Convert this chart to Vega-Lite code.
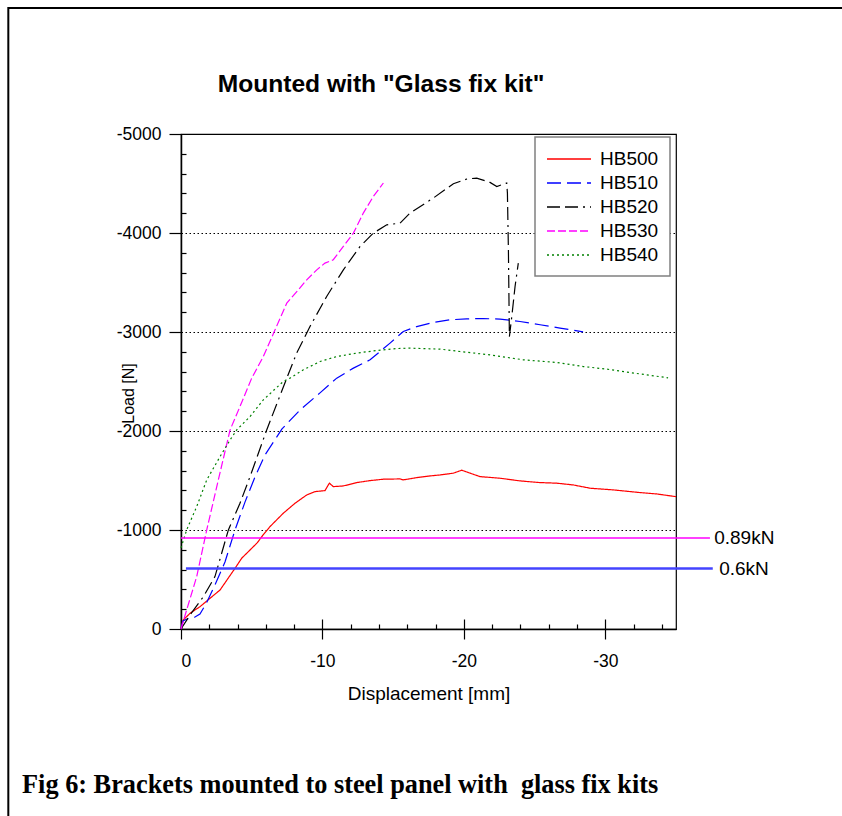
{
  "$schema": "https://vega.github.io/schema/vega-lite/v6.json",
  "autosize": "none",
  "width": 495,
  "height": 495,
  "padding": {"left": 181, "top": 134, "right": 166, "bottom": 187},
  "background": "white",
  "config": {
    "view": {"stroke": "black", "strokeWidth": 1.2},
    "axis": {
      "labelFont": "Liberation Sans",
      "labelFontSize": 17.5,
      "labelColor": "black",
      "titleFont": "Liberation Sans",
      "titleFontSize": 19,
      "titleFontWeight": "normal",
      "titleColor": "black",
      "domainColor": "black",
      "domainWidth": 1.5,
      "tickColor": "black",
      "tickWidth": 1.2
    },
    "legend": {
      "labelFont": "Liberation Sans",
      "labelFontSize": 19,
      "labelColor": "black"
    }
  },
  "datasets": {
    "series": [
      {"s": "HB500", "x": 0, "y": 0},
      {"s": "HB500", "x": -0.16, "y": -91},
      {"s": "HB500", "x": -0.64, "y": -159},
      {"s": "HB500", "x": -1.34, "y": -225},
      {"s": "HB500", "x": -2.05, "y": -310},
      {"s": "HB500", "x": -2.76, "y": -394},
      {"s": "HB500", "x": -3.82, "y": -613},
      {"s": "HB500", "x": -4.29, "y": -715},
      {"s": "HB500", "x": -4.88, "y": -798},
      {"s": "HB500", "x": -5.4, "y": -872},
      {"s": "HB500", "x": -5.71, "y": -933},
      {"s": "HB500", "x": -6.29, "y": -1034},
      {"s": "HB500", "x": -7.23, "y": -1169},
      {"s": "HB500", "x": -8.06, "y": -1270},
      {"s": "HB500", "x": -8.89, "y": -1354},
      {"s": "HB500", "x": -9.48, "y": -1388},
      {"s": "HB500", "x": -10.18, "y": -1398},
      {"s": "HB500", "x": -10.49, "y": -1473},
      {"s": "HB500", "x": -10.77, "y": -1438},
      {"s": "HB500", "x": -11.48, "y": -1445},
      {"s": "HB500", "x": -12.43, "y": -1479},
      {"s": "HB500", "x": -13.37, "y": -1499},
      {"s": "HB500", "x": -14.31, "y": -1513},
      {"s": "HB500", "x": -15.49, "y": -1516},
      {"s": "HB500", "x": -15.7, "y": -1506},
      {"s": "HB500", "x": -16.67, "y": -1529},
      {"s": "HB500", "x": -17.61, "y": -1546},
      {"s": "HB500", "x": -18.32, "y": -1556},
      {"s": "HB500", "x": -19.26, "y": -1574},
      {"s": "HB500", "x": -19.85, "y": -1604},
      {"s": "HB500", "x": -20.44, "y": -1574},
      {"s": "HB500", "x": -21.15, "y": -1539},
      {"s": "HB500", "x": -22.56, "y": -1523},
      {"s": "HB500", "x": -23.97, "y": -1496},
      {"s": "HB500", "x": -25.39, "y": -1479},
      {"s": "HB500", "x": -26.57, "y": -1473},
      {"s": "HB500", "x": -27.74, "y": -1455},
      {"s": "HB500", "x": -28.93, "y": -1422},
      {"s": "HB500", "x": -30.57, "y": -1405},
      {"s": "HB500", "x": -32.46, "y": -1378},
      {"s": "HB500", "x": -33.64, "y": -1364},
      {"s": "HB500", "x": -35.0, "y": -1337},
      {"s": "HB510", "x": 0, "y": 0},
      {"s": "HB510", "x": -0.14, "y": -81},
      {"s": "HB510", "x": -0.42, "y": -101},
      {"s": "HB510", "x": -0.99, "y": -121},
      {"s": "HB510", "x": -1.34, "y": -152},
      {"s": "HB510", "x": -1.77, "y": -253},
      {"s": "HB510", "x": -2.4, "y": -445},
      {"s": "HB510", "x": -3.11, "y": -677},
      {"s": "HB510", "x": -3.82, "y": -1001},
      {"s": "HB510", "x": -4.53, "y": -1284},
      {"s": "HB510", "x": -5.23, "y": -1536},
      {"s": "HB510", "x": -5.94, "y": -1759},
      {"s": "HB510", "x": -7.14, "y": -2021},
      {"s": "HB510", "x": -8.42, "y": -2213},
      {"s": "HB510", "x": -9.83, "y": -2385},
      {"s": "HB510", "x": -11.01, "y": -2534},
      {"s": "HB510", "x": -12.19, "y": -2635},
      {"s": "HB510", "x": -13.37, "y": -2719},
      {"s": "HB510", "x": -14.78, "y": -2888},
      {"s": "HB510", "x": -15.72, "y": -3005},
      {"s": "HB510", "x": -16.67, "y": -3055},
      {"s": "HB510", "x": -17.84, "y": -3096},
      {"s": "HB510", "x": -19.02, "y": -3123},
      {"s": "HB510", "x": -20.2, "y": -3133},
      {"s": "HB510", "x": -21.38, "y": -3136},
      {"s": "HB510", "x": -22.56, "y": -3130},
      {"s": "HB510", "x": -23.97, "y": -3106},
      {"s": "HB510", "x": -25.39, "y": -3073},
      {"s": "HB510", "x": -26.8, "y": -3039},
      {"s": "HB510", "x": -28.43, "y": -3002},
      {"s": "HB520", "x": 0, "y": 0},
      {"s": "HB520", "x": -0.64, "y": -142},
      {"s": "HB520", "x": -1.58, "y": -326},
      {"s": "HB520", "x": -2.4, "y": -529},
      {"s": "HB520", "x": -3.35, "y": -1001},
      {"s": "HB520", "x": -4.17, "y": -1270},
      {"s": "HB520", "x": -4.88, "y": -1539},
      {"s": "HB520", "x": -6.06, "y": -2011},
      {"s": "HB520", "x": -7.48, "y": -2534},
      {"s": "HB520", "x": -8.18, "y": -2787},
      {"s": "HB520", "x": -9.12, "y": -3055},
      {"s": "HB520", "x": -10.3, "y": -3359},
      {"s": "HB520", "x": -11.48, "y": -3628},
      {"s": "HB520", "x": -12.66, "y": -3864},
      {"s": "HB520", "x": -13.6, "y": -3999},
      {"s": "HB520", "x": -14.55, "y": -4083},
      {"s": "HB520", "x": -15.49, "y": -4100},
      {"s": "HB520", "x": -16.19, "y": -4202},
      {"s": "HB520", "x": -17.84, "y": -4353},
      {"s": "HB520", "x": -19.26, "y": -4498},
      {"s": "HB520", "x": -20.2, "y": -4545},
      {"s": "HB520", "x": -20.91, "y": -4555},
      {"s": "HB520", "x": -21.85, "y": -4511},
      {"s": "HB520", "x": -22.33, "y": -4470},
      {"s": "HB520", "x": -23.03, "y": -4505},
      {"s": "HB520", "x": -23.08, "y": -4404},
      {"s": "HB520", "x": -23.15, "y": -3831},
      {"s": "HB520", "x": -23.22, "y": -2954},
      {"s": "HB520", "x": -23.39, "y": -3157},
      {"s": "HB520", "x": -23.62, "y": -3460},
      {"s": "HB520", "x": -23.85, "y": -3696},
      {"s": "HB530", "x": 0, "y": 0},
      {"s": "HB530", "x": -0.4, "y": -192},
      {"s": "HB530", "x": -1.11, "y": -529},
      {"s": "HB530", "x": -1.82, "y": -1001},
      {"s": "HB530", "x": -2.64, "y": -1506},
      {"s": "HB530", "x": -3.47, "y": -2011},
      {"s": "HB530", "x": -4.17, "y": -2247},
      {"s": "HB530", "x": -5.0, "y": -2534},
      {"s": "HB530", "x": -5.82, "y": -2752},
      {"s": "HB530", "x": -6.65, "y": -3022},
      {"s": "HB530", "x": -7.48, "y": -3292},
      {"s": "HB530", "x": -8.3, "y": -3426},
      {"s": "HB530", "x": -8.89, "y": -3527},
      {"s": "HB530", "x": -9.6, "y": -3628},
      {"s": "HB530", "x": -10.18, "y": -3696},
      {"s": "HB530", "x": -10.77, "y": -3730},
      {"s": "HB530", "x": -11.48, "y": -3864},
      {"s": "HB530", "x": -12.19, "y": -3999},
      {"s": "HB530", "x": -12.89, "y": -4201},
      {"s": "HB530", "x": -13.6, "y": -4369},
      {"s": "HB530", "x": -14.31, "y": -4505},
      {"s": "HB540", "x": 0, "y": -819},
      {"s": "HB540", "x": -0.4, "y": -1001},
      {"s": "HB540", "x": -1.11, "y": -1236},
      {"s": "HB540", "x": -1.82, "y": -1506},
      {"s": "HB540", "x": -2.76, "y": -1741},
      {"s": "HB540", "x": -3.47, "y": -1910},
      {"s": "HB540", "x": -3.94, "y": -2011},
      {"s": "HB540", "x": -4.88, "y": -2146},
      {"s": "HB540", "x": -5.82, "y": -2315},
      {"s": "HB540", "x": -7.23, "y": -2500},
      {"s": "HB540", "x": -7.71, "y": -2534},
      {"s": "HB540", "x": -8.65, "y": -2618},
      {"s": "HB540", "x": -9.83, "y": -2702},
      {"s": "HB540", "x": -11.01, "y": -2752},
      {"s": "HB540", "x": -12.43, "y": -2787},
      {"s": "HB540", "x": -13.84, "y": -2813},
      {"s": "HB540", "x": -15.25, "y": -2833},
      {"s": "HB540", "x": -16.19, "y": -2837},
      {"s": "HB540", "x": -17.61, "y": -2830},
      {"s": "HB540", "x": -18.32, "y": -2827},
      {"s": "HB540", "x": -19.73, "y": -2803},
      {"s": "HB540", "x": -21.85, "y": -2769},
      {"s": "HB540", "x": -24.21, "y": -2719},
      {"s": "HB540", "x": -26.57, "y": -2692},
      {"s": "HB540", "x": -28.45, "y": -2651},
      {"s": "HB540", "x": -30.11, "y": -2625},
      {"s": "HB540", "x": -31.52, "y": -2595},
      {"s": "HB540", "x": -32.93, "y": -2567},
      {"s": "HB540", "x": -34.44, "y": -2537}
    ]
  },
  "resolve": {"axis": {"x": "independent", "y": "independent"}},
  "layer": [
    {
      "data": {"values": [{"x": 12.21, "x2": -70, "y": -6273, "y2": 4000}]},
      "mark": {"type": "rect", "fill": null, "stroke": "black", "strokeWidth": 2, "clip": false},
      "encoding": {
        "x": {"field": "x", "type": "quantitative", "scale": {"domain": [0, -35], "nice": false, "zero": false},
          "axis": {"values": [0, -10, -20, -30], "tickSize": 10, "labelPadding": 13, "title": "Displacement [mm]", "titlePadding": 15, "grid": false,
            "labelExpr": "datum.value == 0 ? '0' : '-' + abs(datum.value)"}},
        "x2": {"field": "x2"},
        "y": {"field": "y", "type": "quantitative", "scale": {"domain": [0, -5000], "nice": false, "zero": false},
          "axis": {"values": [0, -1000, -2000, -3000, -4000, -5000], "tickSize": 12, "labelPadding": 8, "title": "Load [N]",
            "labelExpr": "datum.value == 0 ? '0' : '-' + abs(datum.value)",
            "titleFontSize": 16,
            "titleX": -53, "titleY": 259, "titleAngle": -90, "titleBaseline": "middle",
            "grid": true, "gridColor": "black", "gridDash": [1.5, 2.5], "gridWidth": 1, "gridOpacity": 1}},
        "y2": {"field": "y2"}
      }
    },
    {
      "data": {"values": []},
      "mark": {"type": "point", "opacity": 0},
      "encoding": {
        "x": {"field": "x", "type": "quantitative",
          "axis": {"orient": "bottom", "values": [-2, -4, -6, -8, -12, -14, -16, -18, -22, -24, -26, -28, -32, -34], "tickSize": -5, "labels": false, "domain": false, "title": null, "grid": false}},
        "y": {"field": "y", "type": "quantitative",
          "axis": {"orient": "left", "values": [-200, -400, -600, -800, -1200, -1400, -1600, -1800, -2200, -2400, -2600, -2800, -3200, -3400, -3600, -3800, -4200, -4400, -4600, -4800], "tickSize": -5, "labels": false, "domain": false, "title": null, "grid": false}}
      }
    },
    {
      "data": {"values": []},
      "mark": {"type": "point", "opacity": 0},
      "encoding": {
        "x": {"field": "x", "type": "quantitative",
          "axis": {"orient": "bottom", "values": [0, -10, -20, -30], "tickSize": -10, "labels": false, "domain": false, "title": null, "grid": false}},
        "y": {"field": "y", "type": "quantitative", "axis": null}
      }
    },
    {
      "data": {"name": "series"},
      "mark": {"type": "line", "strokeWidth": 1.2, "clip": false},
      "encoding": {
        "x": {"field": "x", "type": "quantitative", "axis": null},
        "y": {"field": "y", "type": "quantitative", "axis": null},
        "color": {"field": "s", "type": "nominal",
          "scale": {"domain": ["HB500", "HB510", "HB520", "HB530", "HB540"], "range": ["#ff0000", "#0000ff", "#000000", "#ff00ff", "#008000"]},
          "legend": {
            "title": null, "orient": "none", "legendX": 354, "legendY": 3,
            "strokeColor": "#808080", "fillColor": "white", "padding": 11,
            "symbolType": "M-2.2,0H2.2", "symbolSize": 400, "symbolStrokeWidth": 1.5, "symbolOffset": 12,
            "labelOffset": 20, "rowPadding": 3,
            "encode": {"legend": {"update": {"strokeWidth": {"value": 1.5}}}}
          }},
        "strokeDash": {"field": "s", "type": "nominal",
          "scale": {"domain": ["HB500", "HB510", "HB520", "HB530", "HB540"], "range": [[1, 0], [14, 6], [13, 5, 13, 5, 2, 5], [8, 3], [2, 3]]}}
      }
    },
    {
      "data": {"values": [{"x": 0, "x2": -37.4, "y": -920}]},
      "mark": {"type": "rule", "color": "#ff00ff", "strokeWidth": 1.5, "clip": false},
      "encoding": {
        "x": {"field": "x", "type": "quantitative", "axis": null},
        "x2": {"field": "x2"},
        "y": {"field": "y", "type": "quantitative", "axis": null}
      }
    },
    {
      "data": {"values": [{"x": -0.35, "x2": -37.6, "y": -610}]},
      "mark": {"type": "rule", "color": "#4444ff", "strokeWidth": 2.5, "clip": false},
      "encoding": {
        "x": {"field": "x", "type": "quantitative", "axis": null},
        "x2": {"field": "x2"},
        "y": {"field": "y", "type": "quantitative", "axis": null}
      }
    },
    {
      "data": {"values": [{"t": "0.89kN", "x": -37.7, "y": -920}, {"t": "0.6kN", "x": -38.05, "y": -610}]},
      "mark": {"type": "text", "align": "left", "baseline": "middle", "font": "Liberation Sans", "fontSize": 19, "color": "black", "clip": false},
      "encoding": {
        "x": {"field": "x", "type": "quantitative", "axis": null},
        "y": {"field": "y", "type": "quantitative", "axis": null},
        "text": {"field": "t"}
      }
    },
    {
      "data": {"values": [{"t": "Mounted with \"Glass fix kit\"", "x": -14.14, "y": -5428}]},
      "mark": {"type": "text", "align": "center", "baseline": "alphabetic", "font": "Liberation Sans", "fontSize": 24.6, "fontWeight": "bold", "color": "black", "clip": false},
      "encoding": {
        "x": {"field": "x", "type": "quantitative", "axis": null},
        "y": {"field": "y", "type": "quantitative", "axis": null},
        "text": {"field": "t"}
      }
    },
    {
      "data": {"values": [{"t": "Fig 6: Brackets mounted to steel panel with \u00a0glass fix kits", "x": 11.24, "y": 1577}]},
      "mark": {"type": "text", "align": "left", "baseline": "middle", "font": "Liberation Serif", "fontSize": 26.3, "fontWeight": "bold", "color": "black", "clip": false},
      "encoding": {
        "x": {"field": "x", "type": "quantitative", "axis": null},
        "y": {"field": "y", "type": "quantitative", "axis": null},
        "text": {"field": "t"}
      }
    }
  ]
}
